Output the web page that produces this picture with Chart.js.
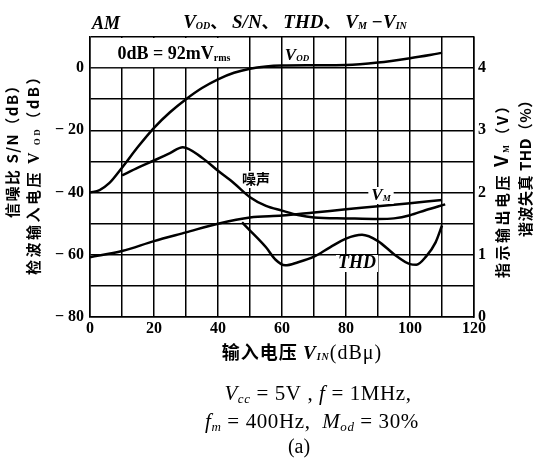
<!DOCTYPE html>
<html>
<head>
<meta charset="utf-8">
<script src="https://cdn.jsdelivr.net/npm/chart.js@4.4.1/dist/chart.umd.min.js"></script>
<style>
  html, body { margin: 0; padding: 0; background: #fff; }
</style>
</head>
<body>
<canvas id="chart" width="536" height="458"></canvas>
<script>
// AM: V_OD, S/N, THD, V_M - V_IN

// 检波输入电压 V_OD (dB)
const vodX = [0, 3, 6, 10, 15, 20, 25, 30, 35, 40, 45, 50, 55, 60, 70, 80, 90, 100, 110]
const vodY = [-40, -39.2, -37, -32, -25.3, -19.2, -14.2, -10, -6.4, -3.6, -1.5, -0.2, 0.5, 0.8, 0.9, 1.0, 1.8, 3.2, 4.9]

// 噪声 (dB)
const noiseX = [10, 15, 20, 25, 29, 35, 40, 45, 50, 55, 60, 65, 70, 80, 90, 95, 100, 105, 111]
const noiseY = [-34.5, -32, -29.7, -27.3, -25.4, -28.8, -33, -37, -41.5, -44.3, -45.8, -47.2, -48, -48.3, -48.5, -48.3, -47.3, -45.6, -43.8]

// 指示输出电压 V_M (V)
const vmX = [0, 10, 20, 30, 40, 50, 60, 70, 80, 90, 100, 110]
const vmY = [0.96, 1.06, 1.22, 1.36, 1.5, 1.6, 1.63, 1.68, 1.73, 1.78, 1.83, 1.88]

// 谐波失真 THD (%)
const thdX = [47.5, 50, 55, 58, 61, 65, 70, 75, 80, 85, 90, 95, 100, 102, 105, 108, 110]
const thdY = [1.52, 1.39, 1.12, 0.92, 0.83, 0.88, 0.97, 1.12, 1.26, 1.32, 1.22, 1.01, 0.85, 0.84, 0.97, 1.2, 1.47]

const xTicks = [0, 20, 40, 60, 80, 100, 120]
const leftTicks = [-80, -60, -40, -20, 0]
const rightTicks = [0, 1, 2, 3, 4]

const SERIF = '"Liberation Serif", "DejaVu Serif", serif'
const CJK = '"Noto Sans CJK SC", sans-serif'

const pts = (xs, ys) => xs.map((x, i) => ({ x: x, y: ys[i] }))

const curve = {
    borderColor: '#000',
    borderWidth: 2.5,
    pointRadius: 0,
    fill: false,
    cubicInterpolationMode: 'monotone'
}

// draws text made of parts [text, font, dy]
function rich(ctx, parts, x, y, align) {
    let w = 0
    parts.forEach(p => { ctx.font = p[1]; w += ctx.measureText(p[0]).width })
    let cx = align === 'center' ? x - w / 2 : x
    parts.forEach(p => {
        ctx.font = p[1]
        ctx.fillText(p[0], cx, y + (p[2] || 0))
        cx += ctx.measureText(p[0]).width
    })
    return w
}

function vertical(ctx, parts, x, yBottom, spacing) {
    ctx.save()
    ctx.translate(x, yBottom)
    ctx.rotate(-Math.PI / 2)
    ctx.letterSpacing = spacing + 'px'
    rich(ctx, parts, 0, 0, 'left')
    ctx.restore()
}

function boxLabel(ctx, parts, x, y, pad) {
    let w = 0
    parts.forEach(p => { ctx.font = p[1]; w += ctx.measureText(p[0]).width })
    ctx.fillStyle = '#fff'
    ctx.fillRect(x - w / 2 - pad, y - 13, w + pad * 2, 17)
    ctx.fillStyle = '#000'
    rich(ctx, parts, x, y, 'center')
}

const notes = {
    id: 'notes',
    afterDraw(chart) {
        const ctx = chart.ctx
        const xs = chart.scales.x
        const ys = chart.scales.y
        ctx.save()
        ctx.fillStyle = '#000'
        ctx.textBaseline = 'alphabetic'

        // title
        rich(ctx, [['AM', `italic bold 18px ${SERIF}`]], 92, 29, 'left')
        const bi = `italic bold 17px ${SERIF}`
        const sub = `italic bold 9px ${SERIF}`
        const ti = `italic bold 19px ${SERIF}`
        const tsub = `italic bold 10px ${SERIF}`
        const cj = `bold 17px ${CJK}`
        rich(ctx, [
            ['V', ti], ['OD', tsub, 1], ['、', cj], [' S/N', ti], ['、', cj], [' THD', ti], ['、', cj],
            [' V', ti], ['M', tsub, 1], [' −V', ti], ['IN', tsub, 1]
        ], 295, 28, 'center')

        // 0dB box in the top row
        const l = xs.getPixelForValue(0), r = xs.getPixelForValue(50)
        const t = ys.getPixelForValue(10), b = ys.getPixelForValue(0)
        ctx.fillStyle = '#fff'
        ctx.fillRect(l + 1, t + 1, r - l - 2, b - t - 2)
        ctx.fillStyle = '#000'
        rich(ctx, [['0dB = 92mV', `bold 18px ${SERIF}`], ['rms', `bold 10px ${SERIF}`, 2]], 174, 59, 'center')

        // curve labels
        boxLabel(ctx, [['V', bi], ['OD', sub, 1]], 297, 60, 1)
        boxLabel(ctx, [['噪声', `bold 14px ${CJK}`]], 256, 184, 1)
        boxLabel(ctx, [['V', bi], ['M', sub, 1]], 381, 200, 3)
        boxLabel(ctx, [['THD', `italic bold 18px ${SERIF}`]], 357, 268, 2)

        // left axis titles
        const c15 = `bold 15px ${CJK}`
        vertical(ctx, [['信噪比 S/N', c15], ['（dB）', c15]], 18, 218, 1.5)
        vertical(ctx, [['检波输入电压 ', c15], ['V', `bold 16px ${SERIF}`], [' OD', `bold 9px ${SERIF}`, 1], ['（dB）', c15]], 39, 275, 2.5)

        // right axis titles
        vertical(ctx, [['指示输出电压 ', c15], ['V', `bold 19px ${CJK}`], ['M', `bold 8px ${SERIF}`, 1], ['（V）', c15]], 508, 278, 2.5)
        vertical(ctx, [['谐波失真 ', c15], ['THD', c15], ['（%）', c15]], 531, 237, 0.5)

        // x axis title
        ctx.letterSpacing = '1px'
        rich(ctx, [['输入电压 ', `bold 18px ${CJK}`], ['V', `italic bold 19px ${SERIF}`], ['IN', `italic bold 10px ${SERIF}`, 1],
            ['(dBμ)', `20px ${SERIF}`]], 302, 359, 'center')

        // conditions
        const n = `21px ${SERIF}`, it = `italic 21px ${SERIF}`, itS = `italic 13px ${SERIF}`
        ctx.letterSpacing = '0.6px'
        rich(ctx, [['V', it], ['cc', itS, 3], [' = 5V , ', n], ['f', it], [' = 1MHz,', n]], 318, 400, 'center')
        rich(ctx, [['f', it], ['m', itS, 3], [' = 400Hz,  ', n], ['M', it], ['od', itS, 3], [' = 30%', n]], 312, 428, 'center')
        ctx.letterSpacing = '0px'
        rich(ctx, [['(a)', `20px ${SERIF}`]], 299, 453, 'center')
        ctx.restore()
    }
}

const tickFont = { family: SERIF, size: 16, weight: 'bold' }

new Chart(document.getElementById('chart'), {
    type: 'line',
    data: {
        datasets: [
            { ...curve, label: 'V_OD', data: pts(vodX, vodY), yAxisID: 'y' },
            { ...curve, label: '噪声', data: pts(noiseX, noiseY), yAxisID: 'y' },
            { ...curve, label: 'V_M', data: pts(vmX, vmY), yAxisID: 'y2' },
            { ...curve, label: 'THD', data: pts(thdX, thdY), yAxisID: 'y2' }
        ]
    },
    options: {
        responsive: false,
        animation: false,
        devicePixelRatio: 1,
        layout: { padding: { top: 37, left: 0, right: 0, bottom: 0 } },
        plugins: { legend: { display: false }, tooltip: { enabled: false } },
        scales: {
            x: {
                type: 'linear', min: 0, max: 120,
                grid: { color: '#000', lineWidth: 1.5, drawTicks: false },
                border: { color: '#000', width: 1.5 },
                ticks: {
                    stepSize: 10, autoSkip: false, maxRotation: 0, padding: 2,
                    color: '#000', font: tickFont,
                    callback: v => xTicks.includes(v) ? String(v) : ''
                },
                afterFit: s => { s.height = 141 }
            },
            y: {
                position: 'left', min: -80, max: 10,
                grid: { color: '#000', lineWidth: 1.5, drawTicks: false },
                border: { color: '#000', width: 1.5 },
                ticks: {
                    stepSize: 10, padding: 6, color: '#000', font: tickFont,
                    callback: v => leftTicks.includes(v) ? (v < 0 ? '− ' + (-v) : '0') : ''
                },
                afterFit: s => { s.width = 90 }
            },
            y2: {
                position: 'right', min: 0, max: 4.5,
                grid: { display: false, drawTicks: false },
                border: { color: '#000', width: 1.5 },
                ticks: {
                    stepSize: 0.5, padding: 4, color: '#000', font: tickFont,
                    callback: v => rightTicks.includes(v) ? String(v) : ''
                },
                afterFit: s => { s.width = 62 }
            }
        }
    },
    plugins: [notes]
})
</script>
</body>
</html>
